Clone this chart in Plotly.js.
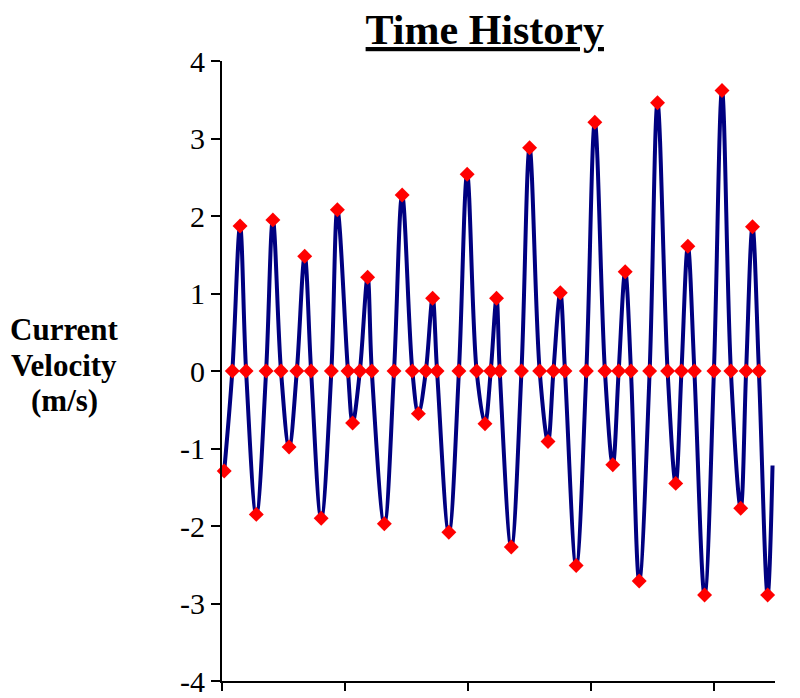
<!DOCTYPE html>
<html>
<head>
<meta charset="utf-8">
<script src="https://cdn.plot.ly/plotly-3.0.1.min.js"></script>
<style>html,body{margin:0;padding:0;background:#fff;}#chart{width:800px;height:698px;}</style>
</head>
<body>
<div id="chart"></div>
<script>
// Event points (peaks, troughs, zero crossings): time (s) and velocity (m/s)
const eventTime = [0.18,0.84,1.47,1.96,2.79,3.59,4.14,4.80,5.46,6.09,6.73,7.25,8.07,8.90,9.39,10.25,10.63,11.22,11.85,12.19,
  13.21,14.00,14.66,15.49,15.98,16.59,17.14,17.50,18.46,19.28,19.95,20.72,21.40,21.87,22.34,22.60,23.54,24.37,25.03,25.85,
  26.53,26.97,27.53,27.91,28.82,29.65,30.34,31.16,31.80,32.28,32.81,33.28,33.95,34.80,35.44,36.26,36.92,37.39,37.91,38.44,
  39.27,40.03,40.69,41.41,42.21,42.65,43.17,43.69,44.40];
const eventVelocity = [-1.29,0,1.87,0,-1.85,0,1.95,0,-0.98,0,1.48,0,-1.90,0,2.08,0,-0.67,0,1.21,0,
  -1.97,0,2.27,0,-0.55,0,0.94,0,-2.08,0,2.54,0,-0.68,0,0.94,0,-2.27,0,2.88,0,
  -0.91,0,1.01,0,-2.51,0,3.21,0,-1.21,0,1.28,0,-2.71,0,3.46,0,-1.45,0,1.61,0,
  -2.89,0,3.62,0,-1.77,0,1.86,0,-2.89];
// Velocity time history line: passes through the events, last sample at the right edge
const lineTime = eventTime.concat([44.80]);
const lineVelocity = eventVelocity.concat([-1.22]);

// Y tick labels (plain hyphen minus as in the reference)
const yTickValues = [-4, -3, -2, -1, 0, 1, 2, 3, 4];
const yTickLabels = ['-4', '-3', '-2', '-1', '0', '1', '2', '3', '4'];
const yTitleLines = ['Current', 'Velocity', '(m/s)'];

const serif = 'Liberation Serif, Times New Roman, serif';

const traces = [
  {
    x: lineTime, y: lineVelocity, type: 'scatter', mode: 'lines',
    line: {color: '#000080', width: 4, shape: 'spline', smoothing: 1},
    hoverinfo: 'skip', showlegend: false
  },
  {
    x: eventTime, y: eventVelocity, type: 'scatter', mode: 'markers',
    marker: {symbol: 'diamond', size: 11.5, color: '#FF0000', line: {width: 0}},
    showlegend: false, cliponaxis: false
  }
];

// y-axis title lines placed at the reference's line positions (pixel rows 329, 365, 400)
const titleRows = [329, 365, 400];
const annotations = yTitleLines.map((t, i) => ({
  text: '<b>' + t + '</b>',
  xref: 'paper', x: (64 - 222) / 553, xanchor: 'center',
  yref: 'paper', y: (681 - titleRows[i]) / 620, yanchor: 'middle',
  showarrow: false,
  font: {family: serif, size: 31, color: '#000'}
}));

const layout = {
  width: 800, height: 698,
  margin: {l: 222, r: 25, t: 61, b: 17, pad: 0},
  paper_bgcolor: '#ffffff', plot_bgcolor: '#ffffff',
  showlegend: false,
  title: {
    text: '<b><u>Time History</u></b>',
    font: {family: serif, size: 42, color: '#000'},
    xref: 'container', x: 0.606, xanchor: 'center',
    yref: 'container', y: 0.958, yanchor: 'middle'
  },
  xaxis: {
    range: [0, 45], tick0: 0, dtick: 10, showticklabels: false,
    ticks: 'outside', ticklen: 8, tickwidth: 2, tickcolor: '#000',
    showline: true, linecolor: '#000', linewidth: 2,
    showgrid: false, zeroline: false
  },
  yaxis: {
    range: [-4, 4], tickmode: 'array', tickvals: yTickValues, ticktext: yTickLabels,
    ticks: 'outside', ticklen: 9, tickwidth: 2, tickcolor: '#000',
    tickfont: {family: serif, size: 30, color: '#000'},
    showline: true, linecolor: '#000', linewidth: 2,
    showgrid: false, zeroline: false
  },
  annotations: annotations
};

Plotly.newPlot('chart', traces, layout, {staticPlot: true, displayModeBar: false});
</script>
</body>
</html>
